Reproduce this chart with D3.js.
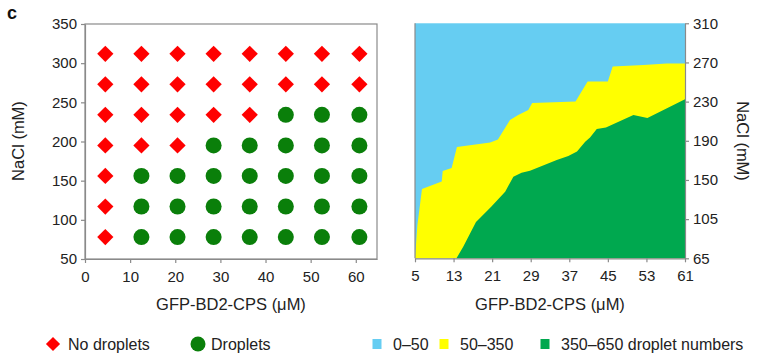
<!DOCTYPE html>
<html><head><meta charset="utf-8">
<script src="https://cdn.jsdelivr.net/npm/d3@7"></script>
<style>
body{margin:0;background:#fff;}
svg{display:block;font-family:"Liberation Sans",Arial,Helvetica,sans-serif;}
.tick text{fill:#222;}
</style></head>
<body>
<svg id="chart" width="773" height="361"></svg>
<script>
// ---- Data: left panel (phase diagram) ----
const proteinConc = [4.5, 12.5, 20.5, 28.5, 36.5, 44.5, 52.5, 60.8]; // µM
const saltConc = [312, 273, 234, 195, 156, 117, 78]; // mM, rows top to bottom
// 1 = droplets, 0 = no droplets (rows match saltConc)
const droplets = [
  [0,0,0,0,0,0,0,0],
  [0,0,0,0,0,0,0,0],
  [0,0,0,0,0,1,1,1],
  [0,0,0,1,1,1,1,1],
  [0,1,1,1,1,1,1,1],
  [0,1,1,1,1,1,1,1],
  [0,1,1,1,1,1,1,1]
];
const leftXTicks = [0,10,20,30,40,50,60];
const leftYTicks = [50,100,150,200,250,300,350];

// ---- Data: right panel (droplet number map) ----
const rightXTicks = [5,13,21,29,37,45,53,61];
const rightYTicks = [65,105,150,190,230,270,310];
// upper edge of 50–350 region (boundary with 0–50)
const boundary50 = [
  [5,65],[5.5,99],[6.45,139.6],[10.54,148.2],[10.75,159.2],[12.6,162.2],[13.7,183.7],
  [20.6,188.3],[22.2,191.3],[24.7,211.2],[26.4,216.3],[28.5,221.4],[29.3,228.6],
  [38.3,230.1],[40.8,250.6],[45.0,250.6],[46.0,265.9],[52.4,267.4],[57.2,268.9],[61,268.9]
];
// upper edge of 350–650 region (boundary with 50–350)
const boundary350 = [
  [13.6,65],[15.0,76.8],[17.65,102.1],[20.8,119.3],[23.7,136.5],[25.4,153.3],[27.1,157.4],
  [28.85,159.5],[34.4,170.4],[36.8,174.5],[38.6,179.1],[40.3,189.1],[41.3,193.4],
  [42.7,202],[44.6,203.6],[50.3,216.3],[53.2,213.3],[61,232.4]
];
const rangeLabels = ["0–50","50–350","350–650 droplet numbers"];
const rangeColors = ["#66cdf2","#ffff00","#00a84f"];

const svg = d3.select("#chart");
const axisGray = "#8a8a8a";
const red = "#ff0000", dGreen = "#0a7f0a";

// panel label
svg.append("text").attr("x",7).attr("y",19).attr("font-size",18).attr("font-weight","bold").attr("fill","#111").text("c");

// ---------- Left panel ----------
const xL = d3.scaleLinear().domain([0,64.7]).range([85,377]);
const yL = d3.scaleLinear().domain([50,350]).range([259,24]);

const gL = svg.append("g");
gL.append("rect").attr("x",85).attr("y",24).attr("width",292).attr("height",235)
  .attr("fill","none").attr("stroke",axisGray).attr("stroke-width",1.2);

const axL = gL.append("g").attr("transform","translate(85,0)")
  .call(d3.axisLeft(yL).tickValues(leftYTicks).tickSize(4).tickSizeOuter(0).tickPadding(4));
const axB = gL.append("g").attr("transform","translate(0,259)")
  .call(d3.axisBottom(xL).tickValues(leftXTicks).tickSize(4).tickSizeOuter(0).tickPadding(8));
[axL,axB].forEach(a=>{
  a.select(".domain").attr("stroke",axisGray).attr("stroke-width",1.2);
  a.selectAll(".tick line").attr("stroke",axisGray).attr("stroke-width",1.2);
  a.selectAll(".tick text").attr("font-size",15).attr("font-family","Liberation Sans, Arial, sans-serif");
});

const pts = [];
saltConc.forEach((s,i)=>proteinConc.forEach((p,j)=>pts.push({p,s,d:droplets[i][j]})));
const diamond = d3.symbol().type(d3.symbolSquare).size(132)();
gL.selectAll(".pt").data(pts).join(g=>g.append("g"))
  .attr("class","pt")
  .each(function(d){
    const g = d3.select(this);
    if(d.d){
      g.append("circle").attr("cx",xL(d.p)).attr("cy",yL(d.s)).attr("r",8).attr("fill",dGreen);
    } else {
      g.append("path").attr("d",diamond)
        .attr("transform",`translate(${xL(d.p)},${yL(d.s)}) rotate(45)`).attr("fill",red);
    }
  });

gL.append("text").attr("x",231).attr("y",310).attr("text-anchor","middle").attr("font-size",16.5).attr("fill","#222")
  .text("GFP-BD2-CPS (μM)");
gL.append("text").attr("transform","translate(24,141) rotate(-90)").attr("text-anchor","middle").attr("font-size",16.5).attr("fill","#222")
  .text("NaCl (mM)");

// ---------- Right panel ----------
const xR = d3.scaleLinear().domain([5,61]).range([415,685]);
const yR = d3.scaleLinear().domain(rightYTicks)
  .range(rightYTicks.map((d,i)=>258.3 - i*39.17));

const gR = svg.append("g");
gR.append("rect").attr("x",xR(5)).attr("y",yR(310)).attr("width",xR(61)-xR(5)).attr("height",yR(65)-yR(310))
  .attr("fill",rangeColors[0]);
const area = d3.area().x(d=>xR(d[0])).y0(yR(65)).y1(d=>yR(d[1]));
gR.append("path").datum(boundary50.concat([[61,65]])).attr("d",area).attr("fill",rangeColors[1]);
gR.append("path").datum(boundary350).attr("d",area).attr("fill",rangeColors[2]);

const axRB = gR.append("g").attr("transform",`translate(0,${yR(65)})`)
  .call(d3.axisBottom(xR).tickValues(rightXTicks).tickSize(4).tickSizeOuter(0).tickPadding(8));
const axRR = gR.append("g").attr("transform",`translate(${xR(61)},0)`)
  .call(d3.axisRight(yR).tickValues(rightYTicks).tickSize(4).tickSizeOuter(0).tickPadding(4));
gR.append("line").attr("x1",xR(5)).attr("x2",xR(5)).attr("y1",yR(310)).attr("y2",yR(65))
  .attr("stroke",axisGray).attr("stroke-width",1.2);
[axRB,axRR].forEach(a=>{
  a.select(".domain").attr("stroke",axisGray).attr("stroke-width",1.2);
  a.selectAll(".tick line").attr("stroke",axisGray).attr("stroke-width",1.2);
  a.selectAll(".tick text").attr("font-size",15).attr("font-family","Liberation Sans, Arial, sans-serif");
});
gR.append("text").attr("x",550).attr("y",310).attr("text-anchor","middle").attr("font-size",16.5).attr("fill","#222")
  .text("GFP-BD2-CPS (μM)");
gR.append("text").attr("transform","translate(737,141) rotate(90)").attr("text-anchor","middle").attr("font-size",16.5).attr("fill","#222")
  .text("NaCl (mM)");

// ---------- Legend ----------
const ly = 344;
const lg = svg.append("g").attr("font-size",16).attr("fill","#222");
lg.append("path").attr("d",d3.symbol().type(d3.symbolSquare).size(100)())
  .attr("transform",`translate(53,${ly}) rotate(45)`).attr("fill",red);
lg.append("text").attr("x",68).attr("y",ly).attr("dy","0.35em").text("No droplets");
lg.append("circle").attr("cx",198).attr("cy",ly).attr("r",7.5).attr("fill",dGreen);
lg.append("text").attr("x",211).attr("y",ly).attr("dy","0.35em").text("Droplets");
const legX = [377, 444, 545];
rangeLabels.forEach((t,i)=>{
  lg.append("rect").attr("x",legX[i]-4.5).attr("y",ly-5).attr("width",9).attr("height",10).attr("fill",rangeColors[i]);
  lg.append("text").attr("x",legX[i]+16).attr("y",ly).attr("dy","0.35em").text(t);
});
</script>
</body></html>
